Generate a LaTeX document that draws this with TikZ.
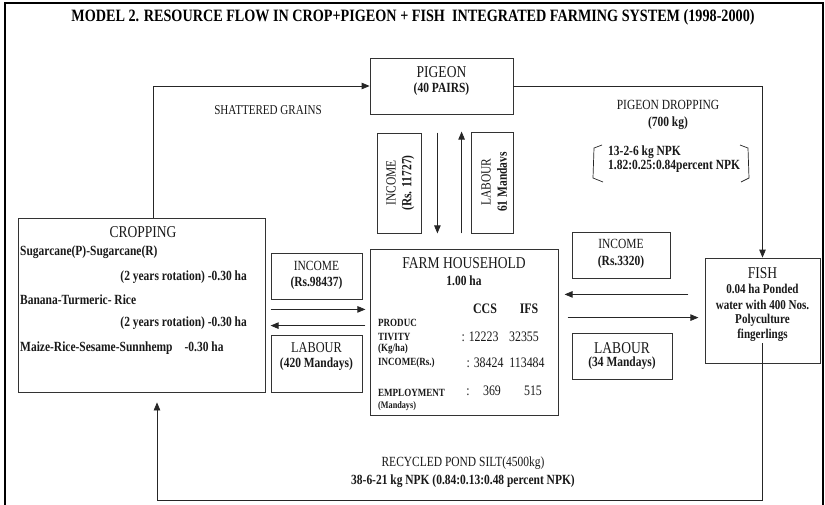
\documentclass[tikz,border=0pt]{standalone}
\usepackage{fontspec}
\setmainfont{Liberation Serif}[FakeStretch=0.82]
\usetikzlibrary{arrows.meta,calc}
\begin{document}
\begin{tikzpicture}[x=1pt,y=-1pt]
\tikzset{
 box/.style={draw=black!80, line width=0.8pt, inner sep=0pt},
 arr/.style={draw=black!85, line width=0.8pt, -{Triangle[length=8pt,width=6.5pt]}},
 ln/.style={draw=black!85, line width=0.8pt},
 hd/.style={font=\fontsize{16.5}{18}\selectfont, inner sep=0pt, text=black!90},
 tx/.style={font=\fontsize{14}{16}\selectfont, inner sep=0pt, text=black!90},
 bd/.style={font=\fontsize{14}{16}\selectfont\bfseries, inner sep=0pt, text=black!90},
 bs/.style={font=\fontsize{13.5}{15}\selectfont\bfseries, inner sep=0pt, text=black!90},
 sm/.style={font=\fontsize{11}{12}\selectfont\bfseries, inner sep=0pt, text=black!90},
 nm/.style={font=\fontsize{14.5}{16}\selectfont, inner sep=0pt, text=black!90},
}
\useasboundingbox (0,0) rectangle (825,504);
\fill[white] (0,0) rectangle (825,504);
% frame
\draw[line width=1.6pt] (5,510) -- (5,3) -- (823,3) -- (823,510);
% title
\node[font=\fontsize{17.3}{19}\selectfont\bfseries, inner sep=0pt] (title) at (413,17)
  {MODEL 2. RESOURCE FLOW IN CROP+PIGEON + FISH \ INTEGRATED FARMING SYSTEM (1998-2000)};

% boxes
\node[box, minimum width=143pt, minimum height=56pt] (pigeon) at (441.5,86) {};
\node[box, minimum width=247pt, minimum height=174pt] (crop) at (141.5,305) {};
\node[box, minimum width=188pt, minimum height=166pt] (farm) at (464,332) {};
\node[box, minimum width=115pt, minimum height=105pt] (fish) at (762.5,310.5) {};
\node[box, minimum width=91pt, minimum height=46pt] (incL) at (316.5,276) {};
\node[box, minimum width=91pt, minimum height=57pt] (labL) at (316.5,363.5) {};
\node[box, minimum width=44pt, minimum height=100pt] (incV) at (399,183) {};
\node[box, minimum width=42pt, minimum height=101pt] (labV) at (492,182.5) {};
\node[box, minimum width=98pt, minimum height=46pt] (incR) at (621,255) {};
\node[box, minimum width=100pt, minimum height=46pt] (labR) at (622,356) {};

% pigeon text
\node[hd] (pigT) at (441.5,72) {PIGEON};
\node[bd] (pigS) at (441.5,89) {(40 PAIRS)};

% shattered grains
\node[tx, font=\fontsize{13.5}{15}\selectfont] (shat) at (268,110) {SHATTERED GRAINS};

% pigeon dropping
\node[tx] (drop) at (668,105) {PIGEON DROPPING};
\node[bd] (dropkg) at (668,123) {(700 kg)};
\node[bd, anchor=west] (npk1) at (608,152) {13-2-6 kg NPK};
\node[bd, anchor=west] (npk2) at (608,166) {1.82:0.25:0.84percent NPK};
\draw[ln, line width=0.7pt] (602,145) -- (594,148) -- (593,178) -- (603,182);
\draw[ln, line width=0.7pt] (740,145) -- (748,148) -- (749,178) -- (741,182);

% cropping text
\node[hd] (cropT) at (143,232) {CROPPING};
\node[bd, anchor=west] (c1) at (20,252) {Sugarcane(P)-Sugarcane(R)};
\node[bd, anchor=east] (c2) at (247,277) {(2 years rotation) -0.30 ha};
\node[bd, anchor=west] (c3) at (20,300) {Banana-Turmeric- Rice};
\node[bd, anchor=east] (c4) at (247,323) {(2 years rotation) -0.30 ha};
\node[bd, anchor=west] (c5) at (20,348) {Maize-Rice-Sesame-Sunnhemp\hspace{12pt}-0.30 ha};

% left income / labour
\node[tx] (incLt) at (316.5,266) {INCOME};
\node[bd] (incLs) at (316.5,283) {(Rs.98437)};
\node[tx, font=\fontsize{15}{16}\selectfont] (labLt) at (316.5,348) {LABOUR};
\node[bd] (labLs) at (316.5,364) {(420 Mandays)};

% vertical income / labour
\node[tx, rotate=90] (incVt) at (391,183) {INCOME};
\node[bd, rotate=90] (incVs) at (408,183) {(Rs. 11727)};
\node[tx, rotate=90] (labVt) at (486,182) {LABOUR};
\node[bd, rotate=90] (labVs) at (502,182) {61 Mandavs};

% farm household text
\node[hd] (farmT) at (464,263) {FARM HOUSEHOLD};
\node[bd] (farmS) at (464,281) {1.00 ha};
\node[bd, font=\fontsize{14.5}{16}\selectfont\bfseries] (ccs) at (485,309) {CCS};
\node[bd, font=\fontsize{14.5}{16}\selectfont\bfseries] (ifs) at (529,309) {IFS};
\node[sm, anchor=west] (prod1) at (378,323) {PRODUC};
\node[sm, anchor=west] (prod2) at (378,337) {TIVITY};
\node[sm, anchor=west] (prod3) at (378,349) {(Kg/ha)};
\node[nm] (p1) at (480,337) {: 12223};
\node[nm] (p2) at (524,337) {32355};
\node[sm, anchor=west] (incF) at (378,363) {INCOME(Rs.)};
\node[nm] (i1) at (485,363) {: 38424};
\node[nm] (i2) at (527,363) {113484};
\node[sm, anchor=west] (emp) at (378,393) {EMPLOYMENT};
\node[nm] (e0) at (468,392) {:};
\node[nm] (e1) at (492,391) {369};
\node[nm] (e2) at (533,391) {515};
\node[sm, font=\fontsize{10}{11}\selectfont\bfseries, anchor=west] (empS) at (378,406) {(Mandays)};

% right income / labour
\node[tx] (incRt) at (621,244) {INCOME};
\node[bd] (incRs) at (621,262) {(Rs.3320)};
\node[hd] (labRt) at (622,348) {LABOUR};
\node[bd] (labRs) at (622,363) {(34 Mandays)};

% fish text
\node[hd] (fishT) at (762.5,273) {FISH};
\node[bs] (f1) at (762.5,289) {0.04 ha Ponded};
\node[bs] (f2) at (762.5,305) {water with 400 Nos.};
\node[bs] (f3) at (762.5,320) {Polyculture};
\node[bs] (f4) at (762.5,335) {fingerlings};

% recycled text
\node[tx] (rec1) at (463,463) {RECYCLED POND SILT(4500kg)};
\node[bd] (rec2) at (463,481) {38-6-21 kg NPK (0.84:0.13:0.48 percent NPK)};

% connectors
\draw[arr] ([xshift=11.5pt]crop.north) |- (pigeon.west);
\draw[arr] (pigeon.east) -| (fish.north);
\draw[arr] ($(incV.north east)+(16,0)$) -- ($(incV.south east)+(16,0)$);
\draw[arr] ($(labV.south west)+(-9,0)$) -- ($(labV.north west)+(-9,0)$);
\draw[arr] ($(incL.south west)+(0,10)$) -- ($(incL.south east)+(3,10)$);
\draw[arr] ($(labL.north east)+(3,-9)$) -- ($(labL.north west)+(0,-9)$);
\draw[arr] ($(incR.south east)+(18,16)$) -- ($(incR.south west)+(-7,16)$);
\draw[arr] ($(labR.north west)+(-4,-15)$) -- ($(labR.north east)+(26,-15)$);
\draw[arr] ($(fish.south)+(0,-20)$) -- ($(fish.south)+(0,137)$) -| ($(crop.south)+(15.5,10)$);
\end{tikzpicture}
\end{document}
